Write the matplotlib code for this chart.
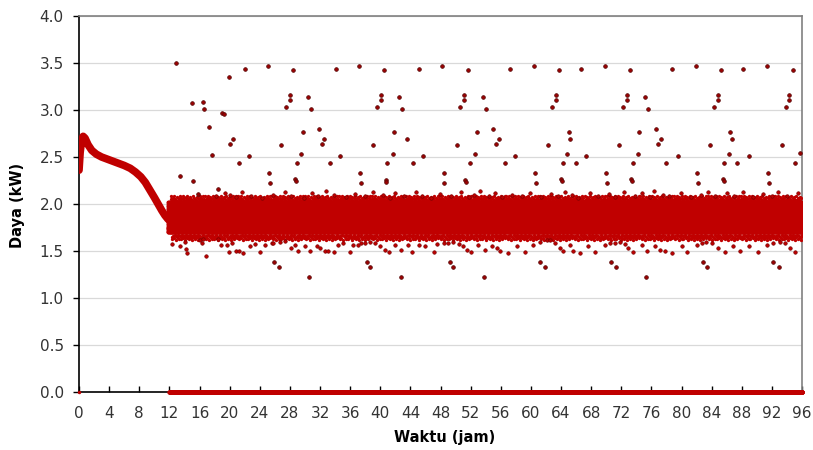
import numpy as np
import matplotlib
matplotlib.use("Agg")
import matplotlib.pyplot as plt

plt.rcParams['font.family'] = ['DejaVu Sans']

# start-up curve, 0 - 12 h
start_hours = [0, 0.15, 0.35, 0.55, 0.8, 1.2, 1.7, 2.3, 3.0, 4.0, 5.0, 6.0,
               6.8, 7.5, 8.2, 8.8, 9.4, 10.0, 10.5, 11.0, 11.4, 11.8, 12.1]
start_kw = [2.36, 2.55, 2.68, 2.72, 2.70, 2.63, 2.57, 2.53, 2.50, 2.47, 2.44, 2.41,
            2.38, 2.34, 2.29, 2.23, 2.15, 2.07, 2.00, 1.93, 1.88, 1.84, 1.82]

# steady band 12 - 96 h; core readings (every 6 s) run through this cycle
band_start, band_end = 11.8, 96.0
core_cycle = [1.84, 1.72, 1.95, 1.71, 1.79, 2.01, 1.88, 1.75, 1.92, 1.70, 1.83, 1.98,
              1.77, 1.90, 1.81, 2.02, 1.73, 1.86, 1.96, 1.80, 1.93, 1.76, 1.87, 2.00,
              1.71, 1.85, 1.97, 1.78, 1.91, 1.82, 1.74, 1.89, 1.99, 1.83, 1.94, 1.76,
              1.70, 1.87, 2.02, 1.79, 1.92, 1.73, 1.86, 1.95, 1.81, 1.70, 1.89, 1.98,
              1.75, 1.84, 1.93, 1.78, 2.01, 1.72, 1.88, 1.96, 1.80, 1.91, 1.74, 1.85, 1.99]
# ragged edge readings (every 3 min) run through this cycle
edge_cycle = [2.05, 2.08, 1.65, 2.04, 1.63, 1.66, 2.06, 2.03, 1.64, 2.09, 1.67, 2.05,
              2.04, 1.62, 1.66, 2.07, 1.65, 2.03, 2.06, 1.64, 1.67, 1.63, 2.05, 2.08,
              1.66, 2.04, 1.63, 2.06, 2.03, 1.65, 1.67, 2.09, 1.64, 2.05, 1.66, 2.04,
              2.07, 1.62, 1.65, 2.03, 2.06, 1.67, 1.64, 2.05, 2.09, 1.66, 2.04, 1.63,
              1.65, 2.06, 2.03, 1.67, 2.07, 1.64, 2.05, 1.62, 1.66, 2.04, 2.08, 1.65,
              2.03, 1.67, 2.06, 1.63, 2.05, 1.64, 2.04, 1.66, 2.07, 2.03, 1.65, 1.62,
              2.06, 1.67, 2.05, 1.64, 2.08, 2.04, 1.66, 1.63, 2.03, 2.06, 1.65, 2.05,
              1.67, 2.09, 1.64, 2.04, 1.66]

# off readings (0 kW) from 12 h on
zero_start = 12.0

# readings just above the band
upper_hours = [18.2, 19.4, 20.1, 20.8, 21.7, 22.9, 24.3, 25.8, 27.3, 28.2, 29.9, 31.0,
               31.7, 32.8, 33.9, 35.4, 36.6, 38.0, 39.0, 40.4, 41.3, 42.0, 43.2, 44.7,
               45.5, 46.8, 47.9, 49.4, 50.7, 51.8, 52.4, 53.2, 54.5, 55.2, 56.1, 57.5,
               58.8, 59.9, 61.4, 62.7, 63.6, 64.5, 65.5, 66.2, 67.8, 68.9, 70.4, 71.2,
               72.4, 73.8, 74.8, 75.8, 76.3, 77.6, 78.4, 79.9, 81.2, 82.6, 83.5, 84.5,
               86.0, 87.0, 88.1, 89.5, 90.8, 92.0, 92.8, 94.0, 95.4]
upper_kw = [2.08, 2.12, 2.10, 2.07, 2.13, 2.09, 2.06, 2.10, 2.13, 2.08, 2.06, 2.12,
            2.09, 2.14, 2.10, 2.07, 2.11, 2.08, 2.13, 2.10, 2.06, 2.12, 2.09, 2.13,
            2.08, 2.06, 2.11, 2.09, 2.13, 2.07, 2.10, 2.14, 2.09, 2.12, 2.07, 2.10,
            2.08, 2.12, 2.07, 2.11, 2.08, 2.13, 2.10, 2.06, 2.12, 2.08, 2.11, 2.07,
            2.13, 2.09, 2.12, 2.07, 2.14, 2.10, 2.08, 2.12, 2.07, 2.10, 2.13, 2.08,
            2.12, 2.09, 2.13, 2.07, 2.11, 2.08, 2.13, 2.09, 2.12]

# readings just below the band
lower_hours = [12.4, 13.4, 14.1, 14.2, 14.4, 16.1, 16.3, 16.5, 16.9, 18.5, 18.8, 19.6,
               19.9, 20.3, 20.9, 21.3, 21.8, 22.7, 23.4, 24.0, 24.7, 25.6,
               25.8, 26.7, 27.4, 28.2, 28.7, 29.1, 30.0, 30.7, 31.6, 32.0, 32.7, 33.1,
               33.8, 34.4, 35.1, 36.0, 36.4, 37.1, 37.5, 38.0, 38.6, 39.3, 40.0, 40.6,
               41.1, 42.0, 42.8, 43.7, 44.2, 45.1, 46.0, 47.1, 47.5, 48.4, 49.0, 49.7,
               50.4, 51.0, 51.5, 52.1, 53.0, 53.9, 54.8, 55.5, 55.9, 57.0, 58.1, 59.2,
               60.3, 61.2, 62.1, 62.5, 63.2, 63.9, 64.3, 65.2, 65.6, 66.5, 67.6, 68.5,
               69.8, 70.5, 71.2, 71.8, 72.5, 72.9, 73.6, 74.7, 75.4, 76.5, 77.2, 77.8,
               78.7, 80.0, 80.7, 82.0, 82.7, 83.3, 84.0, 84.9, 85.8, 86.9, 87.8, 88.9,
               90.2, 91.3, 92.2, 93.1, 93.7, 94.4, 95.1]
lower_kw = [1.57, 1.55, 1.60, 1.52, 1.48, 1.62, 1.59, 1.63, 1.45, 1.63, 1.56, 1.56,
            1.49, 1.58, 1.50, 1.50, 1.48, 1.55, 1.57, 1.49, 1.56, 1.59,
            1.58, 1.60, 1.61, 1.53, 1.56, 1.50, 1.55, 1.50, 1.55, 1.53, 1.50, 1.50,
            1.49, 1.56, 1.58, 1.49, 1.56, 1.56, 1.58, 1.59, 1.60, 1.58, 1.55, 1.51,
            1.49, 1.56, 1.51, 1.56, 1.49, 1.56, 1.55, 1.49, 1.57, 1.58, 1.59, 1.60,
            1.57, 1.55, 1.51, 1.49, 1.56, 1.51, 1.55, 1.53, 1.50, 1.48, 1.55, 1.49,
            1.56, 1.60, 1.62, 1.62, 1.58, 1.53, 1.50, 1.56, 1.50, 1.48, 1.55, 1.49,
            1.56, 1.58, 1.59, 1.60, 1.57, 1.53, 1.49, 1.56, 1.50, 1.55, 1.51, 1.50,
            1.48, 1.55, 1.49, 1.56, 1.59, 1.60, 1.58, 1.53, 1.49, 1.55, 1.50, 1.55,
            1.49, 1.56, 1.59, 1.60, 1.58, 1.53, 1.49]

# isolated peaks and dips
spike_hours = [12.84, 13.4, 14.97, 15.2, 15.76, 16.5, 16.56, 17.2, 17.6, 18.5, 19.05, 19.2,
               19.97, 20.05, 20.4, 21.2, 22.05, 22.6, 25.1, 25.27, 25.4, 26.8, 27.5, 28.0,
               28.0, 28.46, 28.7, 28.8, 28.9, 29.5, 29.7, 30.45, 30.8, 31.9, 32.2, 32.5,
               33.3, 34.1, 34.7, 37.2, 37.3, 37.5, 39.1, 39.6, 40.1, 40.1, 40.55, 40.7,
               40.8, 40.9, 41.7, 41.8, 42.5, 42.9, 43.6, 44.4, 45.15, 45.7, 48.25, 48.4,
               48.5, 50.2, 50.6, 51.1, 51.1, 51.3, 51.4, 51.6, 51.9, 52.6, 52.9, 53.6,
               54.0, 55.0, 55.4, 55.7, 56.5, 57.2, 57.9, 60.4, 60.6, 60.7, 62.3, 62.8,
               63.3, 63.3, 63.7, 64.0, 64.1, 64.2, 64.8, 65.0, 65.2, 65.96, 66.7, 67.3,
               69.85, 70.0, 70.1, 71.7, 72.2, 72.7, 72.7, 73.1, 73.3, 73.4, 73.5, 74.2,
               74.4, 75.2, 75.5, 76.6, 76.9, 77.25, 78.0, 78.8, 79.5, 81.9, 82.0, 82.2,
               83.8, 84.3, 84.8, 84.8, 85.3, 85.5, 85.6, 85.7, 86.3, 86.5, 86.7, 87.4,
               88.2, 88.9, 91.4, 91.5, 91.6, 93.3, 93.85, 94.3, 94.3, 94.8, 95.1, 95.75,
               25.9, 26.6, 30.6, 38.2, 38.6, 42.8, 49.2, 49.7, 53.8, 61.2, 61.9, 70.7,
               71.3, 75.3, 82.8, 83.4, 92.2, 92.9]
spike_kw = [3.50, 2.30, 3.07, 2.24, 2.11, 3.08, 3.01, 2.82, 2.52, 2.16, 2.97, 2.96,
            3.35, 2.64, 2.69, 2.44, 3.44, 2.51, 3.47, 2.33, 2.22, 2.63, 3.03, 3.16,
            3.11, 3.43, 2.27, 2.24, 2.44, 2.53, 2.77, 3.14, 3.01, 2.80, 2.64, 2.69,
            2.44, 3.44, 2.51, 3.47, 2.33, 2.22, 2.63, 3.03, 3.16, 3.11, 3.43, 2.26,
            2.23, 2.44, 2.53, 2.77, 3.14, 3.01, 2.69, 2.44, 3.44, 2.51, 3.47, 2.33,
            2.22, 2.63, 3.03, 3.16, 3.11, 2.26, 2.23, 3.43, 2.44, 2.53, 2.77, 3.14,
            3.01, 2.80, 2.64, 2.69, 2.44, 3.44, 2.51, 3.47, 2.33, 2.22, 2.63, 3.03,
            3.16, 3.11, 3.43, 2.27, 2.24, 2.44, 2.53, 2.77, 2.69, 2.44, 3.44, 2.51,
            3.47, 2.33, 2.22, 2.63, 3.03, 3.16, 3.11, 3.43, 2.27, 2.24, 2.44, 2.53,
            2.77, 3.14, 3.01, 2.80, 2.64, 2.69, 2.44, 3.44, 2.51, 3.47, 2.33, 2.22,
            2.63, 3.03, 3.16, 3.11, 3.43, 2.27, 2.24, 2.44, 2.53, 2.77, 2.69, 2.44,
            3.44, 2.51, 3.47, 2.33, 2.22, 2.63, 3.03, 3.16, 3.11, 3.43, 2.44, 2.54,
            1.38, 1.33, 1.22, 1.38, 1.33, 1.22, 1.38, 1.33, 1.22, 1.38, 1.33, 1.38,
            1.33, 1.22, 1.38, 1.33, 1.38, 1.33]

x_ticks = list(range(0, 97, 4))
y_ticks = [0.0, 0.5, 1.0, 1.5, 2.0, 2.5, 3.0, 3.5, 4.0]

RED = "#C00000"
DARK = "#7A0000"

fig = plt.figure(figsize=(8.13, 4.5), dpi=100)
ax = fig.add_axes([0.0972, 0.1289, 0.8893, 0.8355])

core_hours = np.arange(band_start, band_end, 1 / 600)
core_kw = np.resize(core_cycle, core_hours.size)
edge_hours = np.arange(band_start + 0.4, band_end, 1 / 20)
edge_kw = np.resize(edge_cycle, edge_hours.size)
zero_hours = np.arange(zero_start, band_end + 0.001, 1 / 60)

ax.plot(start_hours, start_kw, color=RED, lw=5.5, solid_capstyle="round", zorder=3)
ax.plot(core_hours, core_kw, "o", ms=2.6, color=RED, mew=0, zorder=3)
ax.plot(edge_hours, edge_kw, "o", ms=2.4, color=RED, mew=0, zorder=3)
ax.plot(zero_hours, np.zeros(zero_hours.size), "o", ms=3.2, color=RED, mew=0,
        zorder=4, clip_on=False)
ax.plot([0], [0], "o", ms=2.5, color=RED, mew=0, zorder=4, clip_on=False)
ax.plot(upper_hours, upper_kw, "o", ms=2.5, mfc=RED, mec=DARK, mew=0.5, zorder=3)
ax.plot(lower_hours, lower_kw, "o", ms=2.5, mfc=RED, mec=DARK, mew=0.5, zorder=3)
ax.plot(spike_hours, spike_kw, "o", ms=2.6, mfc="#A00000", mec="#5A0A0A", mew=0.6,
        zorder=3, clip_on=False)

ax.set_xlim(0, 96)
ax.set_ylim(0, 4)
ax.set_xticks(x_ticks)
ax.set_yticks(y_ticks)
ax.set_yticklabels([f"{v:.1f}" for v in y_ticks])
ax.grid(axis="y", color="#D9D9D9", lw=0.9, zorder=0)
ax.set_axisbelow(True)

ax.tick_params(axis="x", direction="in", length=4, width=1, labelsize=11,
               labelcolor="#333333", pad=10)
ax.tick_params(axis="y", direction="out", length=4, width=1, labelsize=11,
               labelcolor="#333333", pad=7)
for s in ("left", "bottom"):
    ax.spines[s].set_color("black")
    ax.spines[s].set_linewidth(1.2)
for s in ("top", "right"):
    ax.spines[s].set_color("#808080")
    ax.spines[s].set_linewidth(1.2)

fig.text(0.547, 0.027, "Waktu (jam)", ha="center", va="center",
         fontsize=10.5, fontweight="bold")
fig.text(0.022, 0.544, "Daya (kW)", ha="center", va="center", rotation=90,
         fontsize=10.5, fontweight="bold")

fig.savefig("out.png", dpi=100)
